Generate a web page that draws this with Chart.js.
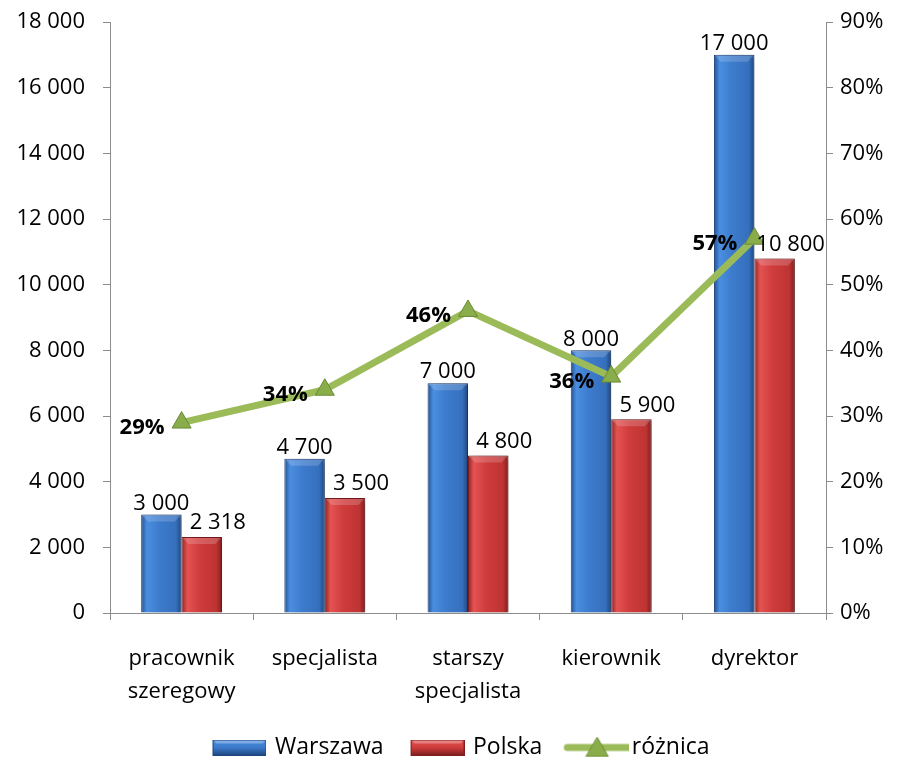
<!DOCTYPE html>
<html>
<head>
<meta charset="utf-8">
<script src="https://cdn.jsdelivr.net/npm/chart.js@4.4.1/dist/chart.umd.min.js"></script>
<style>
  html, body { margin: 0; background: #fff; overflow: hidden; }
  #wrap { width: 899px; height: 757px; }
</style>
</head>
<body>
<div id="wrap"><canvas id="chart"></canvas></div>
<script>
const categories = [["pracownik", "szeregowy"], "specjalista", ["starszy", "specjalista"], "kierownik", "dyrektor"];
const warszawa = [3000, 4700, 7000, 8000, 17000];
const polska = [2318, 3500, 4800, 5900, 10800];
const roznica = [29, 34, 46, 36, 57];
const seriesNames = ["Warszawa", "Polska", "różnica"];
const leftTicks = [0, 2000, 4000, 6000, 8000, 10000, 12000, 14000, 16000, 18000];
const rightTicks = [0, 10, 20, 30, 40, 50, 60, 70, 80, 90];

const FONT = "'Open Sans', sans-serif";
const AXIS = "#8c8c8c";
const BAR_PCT = 0.565;
const LEGEND_GAP = 26;

const PALETTE = {
  blue: ["#24508f", "#4a8ee0", "#3d7bcc", "#3570bd", "#1f4680"],
  red:  ["#8e2424", "#e45252", "#cf3c3c", "#bf3333", "#7e1e1e"]
};

function fmt(v) {
  return String(v).replace(/\B(?=(\d{3})+(?!\d))/g, " ");
}

function barGradient(ctx, pal, side) {
  const chart = ctx.chart;
  if (!chart.chartArea) return pal[2];
  const x = chart.scales.x;
  const step = x.width / categories.length;
  const bw = step * BAR_PCT / 2;
  const c = x.getPixelForValue(ctx.dataIndex);
  const left = side < 0 ? c - bw : c;
  const g = chart.ctx.createLinearGradient(left, 0, left + bw, 0);
  g.addColorStop(0, pal[0]);
  g.addColorStop(0.14, pal[1]);
  g.addColorStop(0.45, pal[2]);
  g.addColorStop(0.86, pal[3]);
  g.addColorStop(1, pal[4]);
  return g;
}

// small pictures for the legend (transparent strip on the left = gap to previous item)
function legendBox(pal) {
  const cv = document.createElement("canvas");
  const g0 = LEGEND_GAP;
  cv.width = 54 + g0; cv.height = 16;
  const c = cv.getContext("2d");
  c.translate(g0, 0);
  const g = c.createLinearGradient(0, 0, 0, 16);
  g.addColorStop(0, pal[1]);
  g.addColorStop(0.5, pal[2]);
  g.addColorStop(1, pal[4]);
  c.fillStyle = g;
  c.fillRect(0, 0, 54, 16);
  c.fillStyle = "rgba(255,255,255,0.3)";
  c.beginPath(); c.moveTo(0, 0); c.lineTo(54, 0); c.lineTo(50, 4); c.lineTo(4, 4); c.closePath(); c.fill();
  c.strokeStyle = pal[4];
  c.strokeRect(0.5, 0.5, 53, 15);
  return cv;
}

function legendLine() {
  const cv = document.createElement("canvas");
  const g0 = LEGEND_GAP;
  cv.width = 66 + g0; cv.height = 22;
  const c = cv.getContext("2d");
  c.translate(g0, 0);
  c.strokeStyle = "#9bbb59";
  c.lineWidth = 7;
  c.lineCap = "round";
  c.beginPath(); c.moveTo(4, 11); c.lineTo(70, 11); c.stroke();
  c.fillStyle = "#8aad4b";
  c.strokeStyle = "#6b8a34";
  c.lineWidth = 1;
  c.beginPath(); c.moveTo(34, 1); c.lineTo(45, 20); c.lineTo(23, 20); c.closePath(); c.fill(); c.stroke();
  return cv;
}

const legendImages = [legendBox(PALETTE.blue), legendBox(PALETTE.red), legendLine()];

const barShadow = {
  id: "barShadow",
  beforeDatasetDraw(chart, args) {
    if (args.meta.type !== "bar") return;
    const c = chart.ctx;
    c.save();
    c.shadowColor = "rgba(0,0,0,0.35)";
    c.shadowBlur = 8;
    c.shadowOffsetX = 5;
    c.shadowOffsetY = 1;
  },
  afterDatasetDraw(chart, args) {
    if (args.meta.type !== "bar") return;
    const c = chart.ctx;
    c.restore();
    // light bevel on top of each bar
    args.meta.data.forEach(bar => {
      const l = bar.x - bar.width / 2, r = bar.x + bar.width / 2, t = bar.y;
      c.save();
      c.fillStyle = "rgba(255,255,255,0.18)";
      c.beginPath();
      c.moveTo(l + 1, t + 1); c.lineTo(r - 1, t + 1); c.lineTo(r - 7, t + 7); c.lineTo(l + 7, t + 7);
      c.closePath(); c.fill();
      c.restore();
    });
  }
};

const valueLabels = {
  id: "valueLabels",
  afterDatasetsDraw(chart) {
    const c = chart.ctx;
    c.save();
    c.fillStyle = "#000";
    chart.data.datasets.forEach((ds, i) => {
      const meta = chart.getDatasetMeta(i);
      meta.data.forEach((el, j) => {
        const v = ds.data[j];
        if (ds.type === "line") {
          c.font = "bold 22px " + FONT;
          c.textAlign = "right";
          c.textBaseline = "middle";
          c.fillText(v + "%", el.x - 17, el.y + 5);
        } else {
          c.font = "22px " + FONT;
          c.textAlign = "center";
          c.textBaseline = "bottom";
          const dx = i === 1 ? 16 : 0;
          c.fillText(fmt(v), el.x + dx, el.y - (i === 1 ? 3 : 0));
        }
      });
    });
    c.restore();
  }
};

const noScalePad = s => { s.paddingTop = 0; s.paddingBottom = 0; };

new Chart(document.getElementById("chart"), {
  data: {
    labels: categories,
    datasets: [
      {
        type: "bar",
        label: seriesNames[0],
        data: warszawa,
        yAxisID: "y",
        backgroundColor: ctx => barGradient(ctx, PALETTE.blue, -1),
        borderColor: "#1f4680",
        borderWidth: 1,
        categoryPercentage: BAR_PCT,
        barPercentage: 1,
        order: 2
      },
      {
        type: "bar",
        label: seriesNames[1],
        data: polska,
        yAxisID: "y",
        backgroundColor: ctx => barGradient(ctx, PALETTE.red, 1),
        borderColor: "#7e1e1e",
        borderWidth: 1,
        categoryPercentage: BAR_PCT,
        barPercentage: 1,
        order: 2
      },
      {
        type: "line",
        label: seriesNames[2],
        data: roznica,
        yAxisID: "y1",
        borderColor: "#9bbb59",
        borderWidth: 7,
        pointStyle: "triangle",
        pointRadius: 11,
        pointBackgroundColor: "#8aad4b",
        pointBorderColor: "#6b8a34",
        pointBorderWidth: 1,
        order: 1
      }
    ]
  },
  options: {
    responsive: true,
    maintainAspectRatio: false,
    animation: false,
    layout: { padding: { top: 22, left: 0, right: 0, bottom: -12 } },
    plugins: {
      tooltip: { enabled: false },
      legend: {
        position: "bottom",
        labels: {
          usePointStyle: true,
          pointStyleWidth: 54 + LEGEND_GAP - 6,
          padding: 4,
          color: "#000",
          font: { family: FONT, size: 23 },
          generateLabels: chart => seriesNames.map((name, i) => ({
            text: name,
            pointStyle: legendImages[i],
            datasetIndex: i,
            hidden: false,
            fontColor: "#000",
            lineWidth: 0
          }))
        }
      }
    },
    scales: {
      x: {
        offset: true,
        grid: { offset: true, drawOnChartArea: false, tickLength: 7, color: AXIS },
        border: { color: AXIS },
        ticks: { color: "#000", font: { family: FONT, size: 22, lineHeight: 1.5 }, padding: 22, maxRotation: 0 },
        afterFit: s => { s.height = 119; }
      },
      y: {
        position: "left",
        min: 0,
        max: 18000,
        afterBuildTicks: s => { s.ticks = leftTicks.map(v => ({ value: v })); },
        grid: { drawOnChartArea: false, tickLength: 7, color: AXIS },
        border: { color: AXIS },
        ticks: { color: "#000", font: { family: FONT, size: 22 }, padding: 18, callback: v => fmt(v) },
        afterFit: s => { s.width = 110; noScalePad(s); }
      },
      y1: {
        position: "right",
        min: 0,
        max: 90,
        afterBuildTicks: s => { s.ticks = rightTicks.map(v => ({ value: v })); },
        grid: { drawOnChartArea: false, tickLength: 7, color: AXIS },
        border: { color: AXIS },
        ticks: { color: "#000", font: { family: FONT, size: 22 }, padding: 7, callback: v => v + "%" },
        afterFit: s => { s.width = 73; noScalePad(s); }
      }
    }
  },
  plugins: [barShadow, valueLabels]
});
</script>
</body>
</html>
